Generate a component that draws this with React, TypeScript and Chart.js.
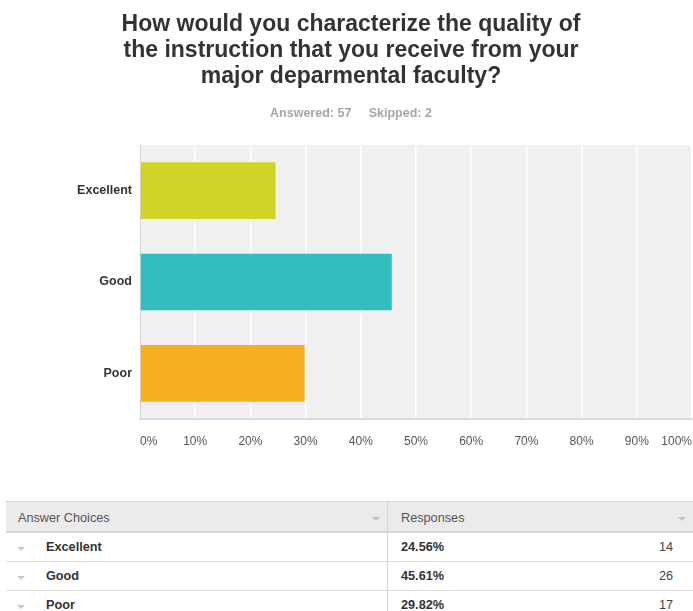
import React, { useEffect, useRef } from "react";
import { Chart, registerables } from "chart.js";

Chart.register(...registerables);

const titleLines = [
  "How would you characterize the quality of",
  "the instruction that you receive from your",
  "major deparmental faculty?",
];
const answered = 57;
const skipped = 2;
const categories = ["Excellent", "Good", "Poor"];
const percentages = [24.56, 45.61, 29.82];
const counts = [14, 26, 17];
const barColors = ["#d0d427", "#33bdbf", "#f7af1f"];
const xMin = 0;
const xMax = 100;
const xStep = 10;

const FONT = '"Liberation Sans", Arial, Helvetica, sans-serif';
const CANVAS_W = 693;
const CANVAS_H = 460;

const plotBg = {
  id: "plotBg",
  beforeDraw(chart: any) {
    const { ctx, chartArea } = chart;
    if (!chartArea) return;
    ctx.save();
    ctx.fillStyle = "#f0f0f0";
    ctx.fillRect(
      chartArea.left,
      chartArea.top,
      chartArea.right - chartArea.left,
      chartArea.bottom - chartArea.top
    );
    ctx.restore();
  },
};

function Triangle({ color, w, h }: { color: string; w: number; h: number }) {
  return (
    <span
      style={{
        display: "inline-block",
        width: 0,
        height: 0,
        borderLeft: `${w / 2}px solid transparent`,
        borderRight: `${w / 2}px solid transparent`,
        borderTop: `${h}px solid ${color}`,
      }}
    />
  );
}

export default function App() {
  const canvasRef = useRef<HTMLCanvasElement | null>(null);

  useEffect(() => {
    if (!canvasRef.current) return;
    const chart = new Chart(canvasRef.current, {
      type: "bar",
      data: {
        labels: categories,
        datasets: [
          {
            data: percentages,
            backgroundColor: barColors,
            borderWidth: 0,
            barPercentage: 0.62,
            categoryPercentage: 1,
          },
        ],
      },
      plugins: [plotBg],
      options: {
        indexAxis: "y",
        responsive: false,
        animation: false,
        layout: { padding: { left: 10, right: 1, top: 0, bottom: 0 } },
        plugins: {
          legend: { display: false },
          tooltip: { enabled: false },
          title: {
            display: true,
            text: titleLines,
            color: "#333333",
            font: { family: FONT, size: 23, weight: "bold", lineHeight: 26 / 23 },
            padding: { top: 12, bottom: 10 },
          },
          subtitle: {
            display: true,
            text: `Answered: ${answered}     Skipped: ${skipped}`,
            color: "#a6a6a6",
            font: { family: FONT, size: 12.5, weight: "bold", lineHeight: 1.2 },
            padding: { top: 6, bottom: 24 },
          },
        },
        scales: {
          x: {
            type: "linear",
            position: "bottom",
            min: xMin,
            max: xMax,
            ticks: {
              stepSize: xStep,
              callback: (v: any) => `${v}%`,
              align: "inner",
              padding: 15,
              color: "#555555",
              font: { family: FONT, size: 12 },
              maxRotation: 0,
              autoSkip: false,
            },
            grid: {
              color: (ctx: any) => (ctx.index === 0 ? "rgba(0,0,0,0)" : "#ffffff"),
              lineWidth: 1.5,
              drawTicks: false,
            },
            border: { display: true, color: "#dadada", width: 2 },
            afterFit: (s: any) => {
              s.height = 41;
              s.paddingLeft = 0;
              s.paddingRight = 0;
            },
          },
          y: {
            type: "category",
            offset: true,
            ticks: {
              color: "#333333",
              font: { family: FONT, size: 12.5, weight: "bold" },
              padding: 8,
            },
            grid: { display: false, drawTicks: false },
            border: { display: true, color: "#d6d6d6", width: 1 },
            afterFit: (s: any) => {
              s.width = 130;
              s.paddingTop = 0;
              s.paddingBottom = 0;
            },
          },
        },
      },
    } as any);
    return () => chart.destroy();
  }, []);

  const cellText: React.CSSProperties = {
    fontFamily: FONT,
    fontSize: 12.7,
  };

  return (
    <div
      style={{
        position: "absolute",
        left: 0,
        top: 0,
        width: 693,
        height: 611,
        overflow: "hidden",
        background: "#ffffff",
        fontFamily: FONT,
      }}
    >
      <canvas
        ref={canvasRef}
        width={CANVAS_W}
        height={CANVAS_H}
        style={{ position: "absolute", left: 0, top: 0, width: CANVAS_W, height: CANVAS_H }}
      />
      <div style={{ position: "absolute", left: 6, top: 501, width: 700 }}>
        <div
          style={{
            display: "flex",
            height: 29,
            background: "#ebebeb",
            borderTop: "1px solid #d6d6d6",
            borderBottom: "2px solid #d6d6d6",
          }}
        >
          <div
            style={{
              width: 381,
              borderRight: "1px solid #d6d6d6",
              display: "flex",
              alignItems: "center",
              position: "relative",
            }}
          >
            <span style={{ ...cellText, color: "#555", marginLeft: 12, marginTop: 2 }}>Answer Choices</span>
            <span style={{ position: "absolute", left: 366, top: 14, lineHeight: 0 }}>
              <Triangle color="#c2c2c2" w={8} h={4} />
            </span>
          </div>
          <div style={{ width: 305, display: "flex", alignItems: "center", position: "relative" }}>
            <span style={{ ...cellText, color: "#555", marginLeft: 13, marginTop: 2 }}>Responses</span>
            <span style={{ position: "absolute", left: 290, top: 14, lineHeight: 0 }}>
              <Triangle color="#c2c2c2" w={8} h={4} />
            </span>
          </div>
        </div>
        {categories.map((c, i) => (
          <div
            key={c}
            style={{
              display: "flex",
              height: 28,
              borderBottom: "1px solid #dcdcdc",
            }}
          >
            <div
              style={{
                width: 381,
                borderRight: "1px solid #d6d6d6",
                display: "flex",
                alignItems: "center",
                position: "relative",
              }}
            >
              <span style={{ position: "absolute", left: 11, top: 13, lineHeight: 0 }}>
                <Triangle color="#c8c8c8" w={9} h={4} />
              </span>
              <span style={{ ...cellText, fontWeight: "bold", color: "#333", marginLeft: 40 }}>{c}</span>
            </div>
            <div style={{ width: 305, display: "flex", alignItems: "center", position: "relative" }}>
              <span style={{ ...cellText, fontWeight: "bold", color: "#333", marginLeft: 13 }}>
                {percentages[i].toFixed(2)}%
              </span>
              <span
                style={{
                  ...cellText,
                  color: "#444",
                  position: "absolute",
                  right: 305 - 285,
                  top: "50%",
                  transform: "translateY(-50%)",
                }}
              >
                {counts[i]}
              </span>
            </div>
          </div>
        ))}
      </div>
    </div>
  );
}
